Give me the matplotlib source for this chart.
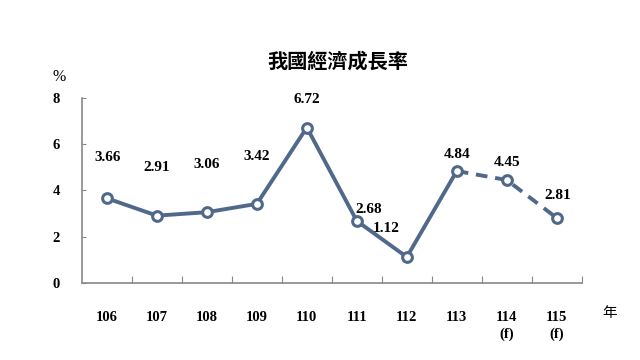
import matplotlib.pyplot as plt

plt.rcParams['font.family'] = ['Liberation Serif', 'Noto Sans CJK TC', 'DejaVu Sans']

years = ['106', '107', '108', '109', '110', '111', '112', '113', '114\n(f)', '115\n(f)']
growth = [3.66, 2.91, 3.06, 3.42, 6.72, 2.68, 1.12, 4.84, 4.45, 2.81]
n_actual = 8  # 106-113 actual, rest forecast

# label offsets in pixels (dx, dy) from each point
label_off = [(1, 41), (0, 48), (0, 48), (0, 47), (0, 28), (12, 11), (-21, 29), (0, 17), (0, 18), (1, 22)]

color = '#50698a'

fig = plt.figure(figsize=(6.4, 3.6), dpi=100)
ax = fig.add_axes([0.128, 0.214, 0.781, 0.514])

x = list(range(len(growth)))
ax.plot(x[:n_actual], growth[:n_actual], color=color, lw=2.8, zorder=2)
ax.plot(x[n_actual - 1:], growth[n_actual - 1:], color=color, lw=2.8,
        ls=(0, (3, 2)), zorder=2)
ax.plot(x, growth, ls='none', marker='o', ms=7, mfc='white', mec=color,
        mew=2.2, zorder=3)

for xi, v, (dx, dy) in zip(x, growth, label_off):
    ax.annotate(f'{v:.2f}', (xi, v), xytext=(dx * 0.72, dy * 0.72),
                textcoords='offset points', ha='center', va='center',
                fontsize=11, fontweight='bold')

ax.set_xlim(-0.5, len(growth) - 0.5)
ax.set_ylim(0, 8)
ax.set_yticks([0, 2, 4, 6, 8])
ax.tick_params(axis='y', direction='in', length=3, color='#888888',
               labelsize=10.5, pad=16)
for lab in ax.get_yticklabels():
    lab.set_fontweight('bold')

# ticks between categories, labels at centers
ax.set_xticks([i + 0.5 for i in range(len(growth))])
ax.set_xticklabels([])
ax.tick_params(axis='x', which='major', direction='in', length=5, color='#888888')
ax.set_xticks(x, minor=True)
ax.set_xticklabels(years, minor=True, fontsize=10.5, fontweight='bold', va='top',
                   linespacing=1.4)
ax.tick_params(axis='x', which='minor', length=0, pad=20)

for s in ['top', 'right']:
    ax.spines[s].set_visible(False)
for s in ['left', 'bottom']:
    ax.spines[s].set_color('#888888')
    ax.spines[s].set_linewidth(1.2)

fig.text(0.528, 0.83, '我國經濟成長率', ha='center', va='center', fontsize=14.5,
         fontweight='bold', family=['Noto Sans CJK TC'])
fig.text(0.093, 0.785, '%', ha='center', va='center', fontsize=11.5)
fig.text(0.952, 0.13, '年', ha='center', va='center', fontsize=10.5,
         family=['Noto Sans CJK TC'])

fig.savefig('out.png', dpi=100)
